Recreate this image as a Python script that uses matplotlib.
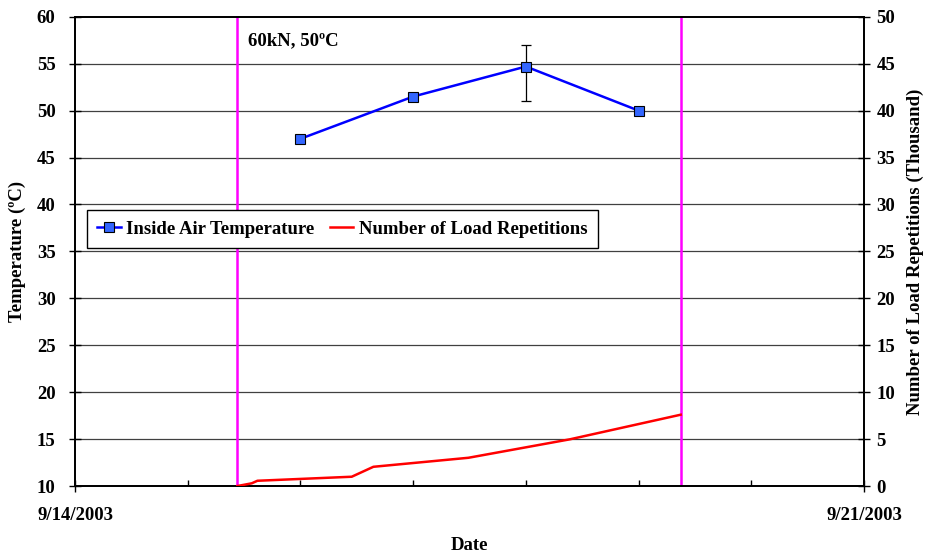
import matplotlib
matplotlib.use('Agg')
import matplotlib.pyplot as plt
import matplotlib.dates as mdates
from datetime import datetime

# inside air temperature (daily readings, deg C) with min/max spread
temp_dates = [datetime(2003, 9, 16), datetime(2003, 9, 17),
              datetime(2003, 9, 18), datetime(2003, 9, 19)]
temp_values = [47.0, 51.5, 54.7, 50.0]
temp_err_low = [0.0, 0.4, 3.7, 0.0]
temp_err_high = [0.0, 0.4, 2.3, 0.0]

# cumulative load repetitions (thousand)
load_dates = [datetime(2003, 9, 15, 10, 34), datetime(2003, 9, 15, 13, 38),
              datetime(2003, 9, 15, 14, 50), datetime(2003, 9, 16, 10, 55),
              datetime(2003, 9, 16, 15, 32), datetime(2003, 9, 17, 11, 46),
              datetime(2003, 9, 18, 9, 24), datetime(2003, 9, 19, 8, 58)]
load_values = [0.0, 0.29, 0.56, 0.99, 2.05, 3.01, 4.98, 7.6]

# start / end of the test section
test_start = datetime(2003, 9, 15, 10, 34)
test_end = datetime(2003, 9, 19, 8, 58)

x_start = datetime(2003, 9, 14)
x_end = datetime(2003, 9, 21)

FS = 13.5
plt.rcParams['font.family'] = ['Liberation Serif', 'DejaVu Serif']
plt.rcParams['font.weight'] = 'bold'
plt.rcParams['font.size'] = FS

fig = plt.figure(figsize=(9.25, 5.54), dpi=100)
ax = fig.add_axes([0.0811, 0.1227, 0.853, 0.847])
ax2 = ax.twinx()

# horizontal grid on the temperature axis
for yv in range(15, 60, 5):
    ax.axhline(yv, color='#404040', lw=0.9, zorder=0)

ax.axvline(test_start, color='#ff00ff', lw=1.8, zorder=1)
ax.axvline(test_end, color='#ff00ff', lw=1.8, zorder=1)

ax.errorbar(temp_dates, temp_values, yerr=[temp_err_low, temp_err_high],
            fmt='none', ecolor='black', elinewidth=0.9, capsize=3.5, capthick=0.9, zorder=2)
ln1, = ax.plot(temp_dates, temp_values, color='#0000ff', lw=1.8, marker='s',
               markersize=6.5, markerfacecolor='#3366ff', markeredgecolor='black',
               markeredgewidth=0.8, label='Inside Air Temperature', zorder=3)
ln2, = ax2.plot(load_dates, load_values, color='#ff0000', lw=1.8,
                label='Number of Load Repetitions', zorder=3)

ax.set_xlim(x_start, x_end)
ax.set_ylim(10, 60)
ax2.set_ylim(0, 50)
ax.set_yticks(range(10, 61, 5))
ax2.set_yticks(range(0, 51, 5))

ax.xaxis.set_major_locator(mdates.DayLocator(bymonthday=[14, 21]))
ax.xaxis.set_minor_locator(mdates.DayLocator())
ax.xaxis.set_major_formatter(mdates.DateFormatter('%-m/%d/%Y'))
ax.tick_params(axis='x', which='major', direction='inout', length=8, width=1, pad=11)
ax.tick_params(axis='x', which='minor', direction='in', length=4, width=1)
ax.tick_params(axis='y', direction='inout', length=8, width=1, pad=10)
ax2.tick_params(axis='y', direction='inout', length=8, width=1, pad=5)

for sp in list(ax.spines.values()) + list(ax2.spines.values()):
    sp.set_linewidth(1.3)
    sp.set_color('black')

ax.text(0.219, 0.950, '60kN, 50ºC', transform=ax.transAxes, ha='left', va='center',
        fontsize=FS, fontweight='bold')

ax.set_xlabel('Date', fontweight='bold', va='center')
ax.xaxis.set_label_coords(0.5, -0.1257)
ax.set_ylabel('Temperature (ºC)', fontweight='bold', va='center')
ax.yaxis.set_label_coords(-0.0725, 0.5)
ax2.set_ylabel('Number of Load Repetitions (Thousand)', fontweight='bold', va='center')
ax2.yaxis.set_label_coords(1.0646, 0.5)

leg = ax2.legend(handles=[ln1, ln2], loc='upper left', bbox_to_anchor=(0.0152, 0.588),
                 ncol=2, frameon=True, fancybox=False, framealpha=1, edgecolor='black',
                 handlelength=1.25, columnspacing=0.8, borderpad=0.55, handletextpad=0.3,
                 borderaxespad=0, prop={'weight': 'bold', 'size': FS})
leg.get_frame().set_linewidth(1.0)
leg.set_zorder(10)

fig.savefig('out.png', dpi=100)
